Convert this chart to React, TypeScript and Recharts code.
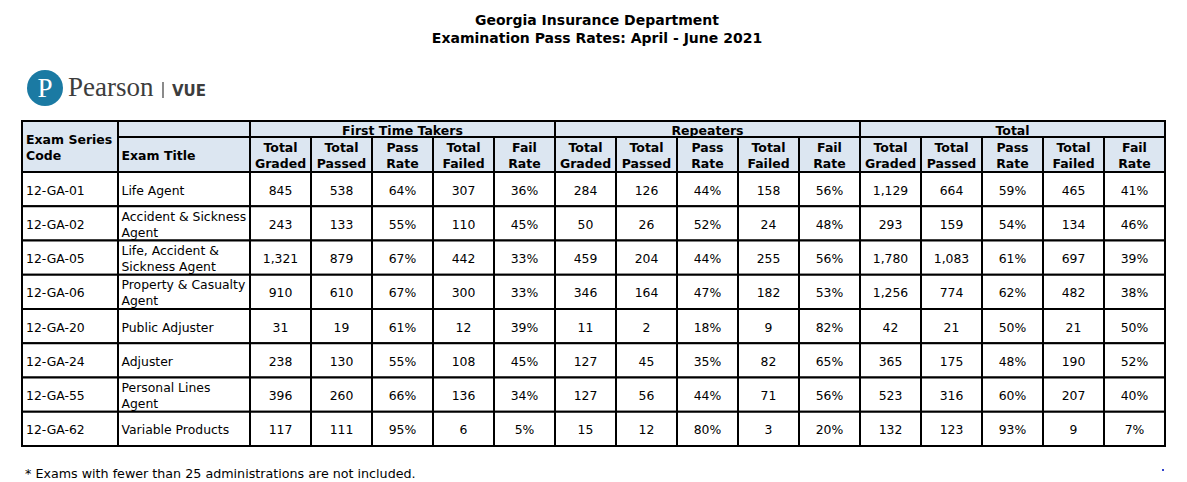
import React from 'react';
import { ScatterChart, Scatter, XAxis, YAxis } from 'recharts';

// table content
const groupLabels = ['First Time Takers', 'Repeaters', 'Total'];
const metricLabels = [
  ['Total', 'Graded'],
  ['Total', 'Passed'],
  ['Pass', 'Rate'],
  ['Total', 'Failed'],
  ['Fail', 'Rate'],
];
const examCodes = ['12-GA-01', '12-GA-02', '12-GA-05', '12-GA-06', '12-GA-20', '12-GA-24', '12-GA-55', '12-GA-62'];
const examTitles = [
  ['Life Agent'],
  ['Accident & Sickness', 'Agent'],
  ['Life, Accident &', 'Sickness Agent'],
  ['Property & Casualty', 'Agent'],
  ['Public Adjuster'],
  ['Adjuster'],
  ['Personal Lines', 'Agent'],
  ['Variable Products'],
];

const firstGraded = [845, 243, 1321, 910, 31, 238, 396, 117];
const firstPassed = [538, 133, 879, 610, 19, 130, 260, 111];
const firstPassRate = [64, 55, 67, 67, 61, 55, 66, 95];
const firstFailed = [307, 110, 442, 300, 12, 108, 136, 6];
const firstFailRate = [36, 45, 33, 33, 39, 45, 34, 5];

const repGraded = [284, 50, 459, 346, 11, 127, 127, 15];
const repPassed = [126, 26, 204, 164, 2, 45, 56, 12];
const repPassRate = [44, 52, 44, 47, 18, 35, 44, 80];
const repFailed = [158, 24, 255, 182, 9, 82, 71, 3];
const repFailRate = [56, 48, 56, 53, 82, 65, 56, 20];

const totGraded = [1129, 293, 1780, 1256, 42, 365, 523, 132];
const totPassed = [664, 159, 1083, 774, 21, 175, 316, 123];
const totPassRate = [59, 54, 61, 62, 50, 48, 60, 93];
const totFailed = [465, 134, 697, 482, 21, 190, 207, 9];
const totFailRate = [41, 46, 39, 38, 50, 52, 40, 7];

const groupColumns = [
  [firstGraded, firstPassed, firstPassRate, firstFailed, firstFailRate],
  [repGraded, repPassed, repPassRate, repFailed, repFailRate],
  [totGraded, totPassed, totPassRate, totFailed, totFailRate],
];

// layout (axis units: 1 x unit = one numeric column, 1 y unit = one body row)
const CHART_W = 1187;
const CHART_H = 482;
const COL_PX = 61;
const ROW_PX = 34.25;
const TABLE_LEFT = 22;
const BODY_TOP = 172;
const X_MIN = -TABLE_LEFT / COL_PX;
const X_MAX = X_MIN + CHART_W / COL_PX;
const Y_MIN = -BODY_TOP / ROW_PX;
const Y_MAX = Y_MIN + CHART_H / ROW_PX;
const CODE_W = 96 / COL_PX;
const TITLE_W = 132 / COL_PX;
const HEAD2_H = 35 / ROW_PX;
const HEAD1_H = 16 / ROW_PX;
const HEAD_FILL = '#dce6f1';
const FONT = '"DejaVu Sans", Verdana, sans-serif';

type Cell = {
  x: number;
  y: number;
  w: number;
  h: number;
  lines: string[];
  head: boolean;
  left: boolean;
  pad: number;
};

const cells: Cell[] = [];
const addCell = (x0: number, x1: number, y0: number, y1: number, lines: string[], head: boolean, left = false, pad = 0) => {
  cells.push({ x: (x0 + x1) / 2, y: (y0 + y1) / 2, w: x1 - x0, h: y1 - y0, lines, head, left, pad });
};

const numStart = CODE_W + TITLE_W;
const top = -(HEAD1_H + HEAD2_H);
addCell(0, CODE_W, top, 0, ['Exam Series', 'Code'], true, true, 4);
addCell(CODE_W, numStart, top, -HEAD2_H, [], true);
addCell(CODE_W, numStart, -HEAD2_H, 0, ['Exam Title'], true, true, 3.5);
groupLabels.forEach((g, gi) => {
  const gx = numStart + gi * 5;
  addCell(gx, gx + 5, top, -HEAD2_H, [g], true);
  metricLabels.forEach((m, mi) => addCell(gx + mi, gx + mi + 1, -HEAD2_H, 0, m, true));
});
examCodes.forEach((code, r) => {
  addCell(0, CODE_W, r, r + 1, [code], false, true, 4);
  addCell(CODE_W, numStart, r, r + 1, examTitles[r], false, true, 3.5);
  groupColumns.forEach((cols, gi) => {
    cols.forEach((vals, mi) => {
      const isRate = mi === 2 || mi === 4;
      const txt = isRate ? `${vals[r]}%` : vals[r].toLocaleString('en-US');
      const cx = numStart + gi * 5 + mi;
      addCell(cx, cx + 1, r, r + 1, [txt], false);
    });
  });
});

const TableCell = (props: any) => {
  const { cx, cy, payload } = props;
  const w = payload.w * COL_PX;
  const h = payload.h * ROW_PX;
  const x0 = cx - w / 2;
  const y0 = cy - h / 2;
  const n = payload.lines.length;
  const tx = payload.left ? x0 + payload.pad : cx;
  return (
    <g>
      <rect x={x0} y={y0} width={w} height={h} fill={payload.head ? HEAD_FILL : '#fff'} stroke="#000" strokeWidth={2} />
      <text
        textAnchor={payload.left ? 'start' : 'middle'}
        fontFamily={FONT}
        fontSize={payload.head ? 12.5 : 12.4}
        fontWeight={payload.head ? 'bold' : 'normal'}
        fill="#000"
      >
        {payload.lines.map((l: string, i: number) => (
          <tspan key={i} x={tx} y={cy + 1 + (i - (n - 1) / 2) * 16} dy="0.36em">
            {l}
          </tspan>
        ))}
      </text>
    </g>
  );
};

export default function App() {
  return (
    <div style={{ position: 'relative', width: CHART_W, height: CHART_H, background: '#fff' }}>
      <style>{'body{margin:0}'}</style>
      <ScatterChart width={CHART_W} height={CHART_H} margin={{ top: 0, right: 0, bottom: 0, left: 0 }}>
        <XAxis type="number" dataKey="x" domain={[X_MIN, X_MAX]} allowDataOverflow hide />
        <YAxis type="number" dataKey="y" domain={[Y_MIN, Y_MAX]} allowDataOverflow reversed hide />
        <Scatter data={cells} shape={TableCell} isAnimationActive={false} />
      </ScatterChart>
      <svg width={CHART_W} height={CHART_H} style={{ position: 'absolute', left: 0, top: 0, pointerEvents: 'none' }}>
        <text x={597} y={25} textAnchor="middle" fontFamily={FONT} fontWeight="bold" fontSize={14} fill="#000">
          Georgia Insurance Department
        </text>
        <text x={597} y={43} textAnchor="middle" fontFamily={FONT} fontWeight="bold" fontSize={14} fill="#000">
          Examination Pass Rates: April - June 2021
        </text>
        <circle cx={45} cy={88} r={18} fill="#1b7aa3" />
        <text x={45} y={97} textAnchor="middle" fontFamily="Liberation Serif, serif" fontSize={27} fill="#fff">
          P
        </text>
        <text x={68} y={96} fontFamily="Liberation Serif, serif" fontSize={27} fill="#3d3d3d">
          Pearson
        </text>
        <line x1={163} x2={163} y1={82} y2={98} stroke="#3d3d3d" strokeWidth={1.2} />
        <text x={172} y={96} fontFamily={FONT} fontWeight="bold" fontSize={15} fill="#3d3d3d">
          VUE
        </text>
        <text x={25} y={478} fontFamily={FONT} fontSize={12.7} fill="#000">
          * Exams with fewer than 25 administrations are not included.
        </text>
        <rect x={1162} y={469} width={2} height={2} fill="#3344cc" />
      </svg>
    </div>
  );
}
